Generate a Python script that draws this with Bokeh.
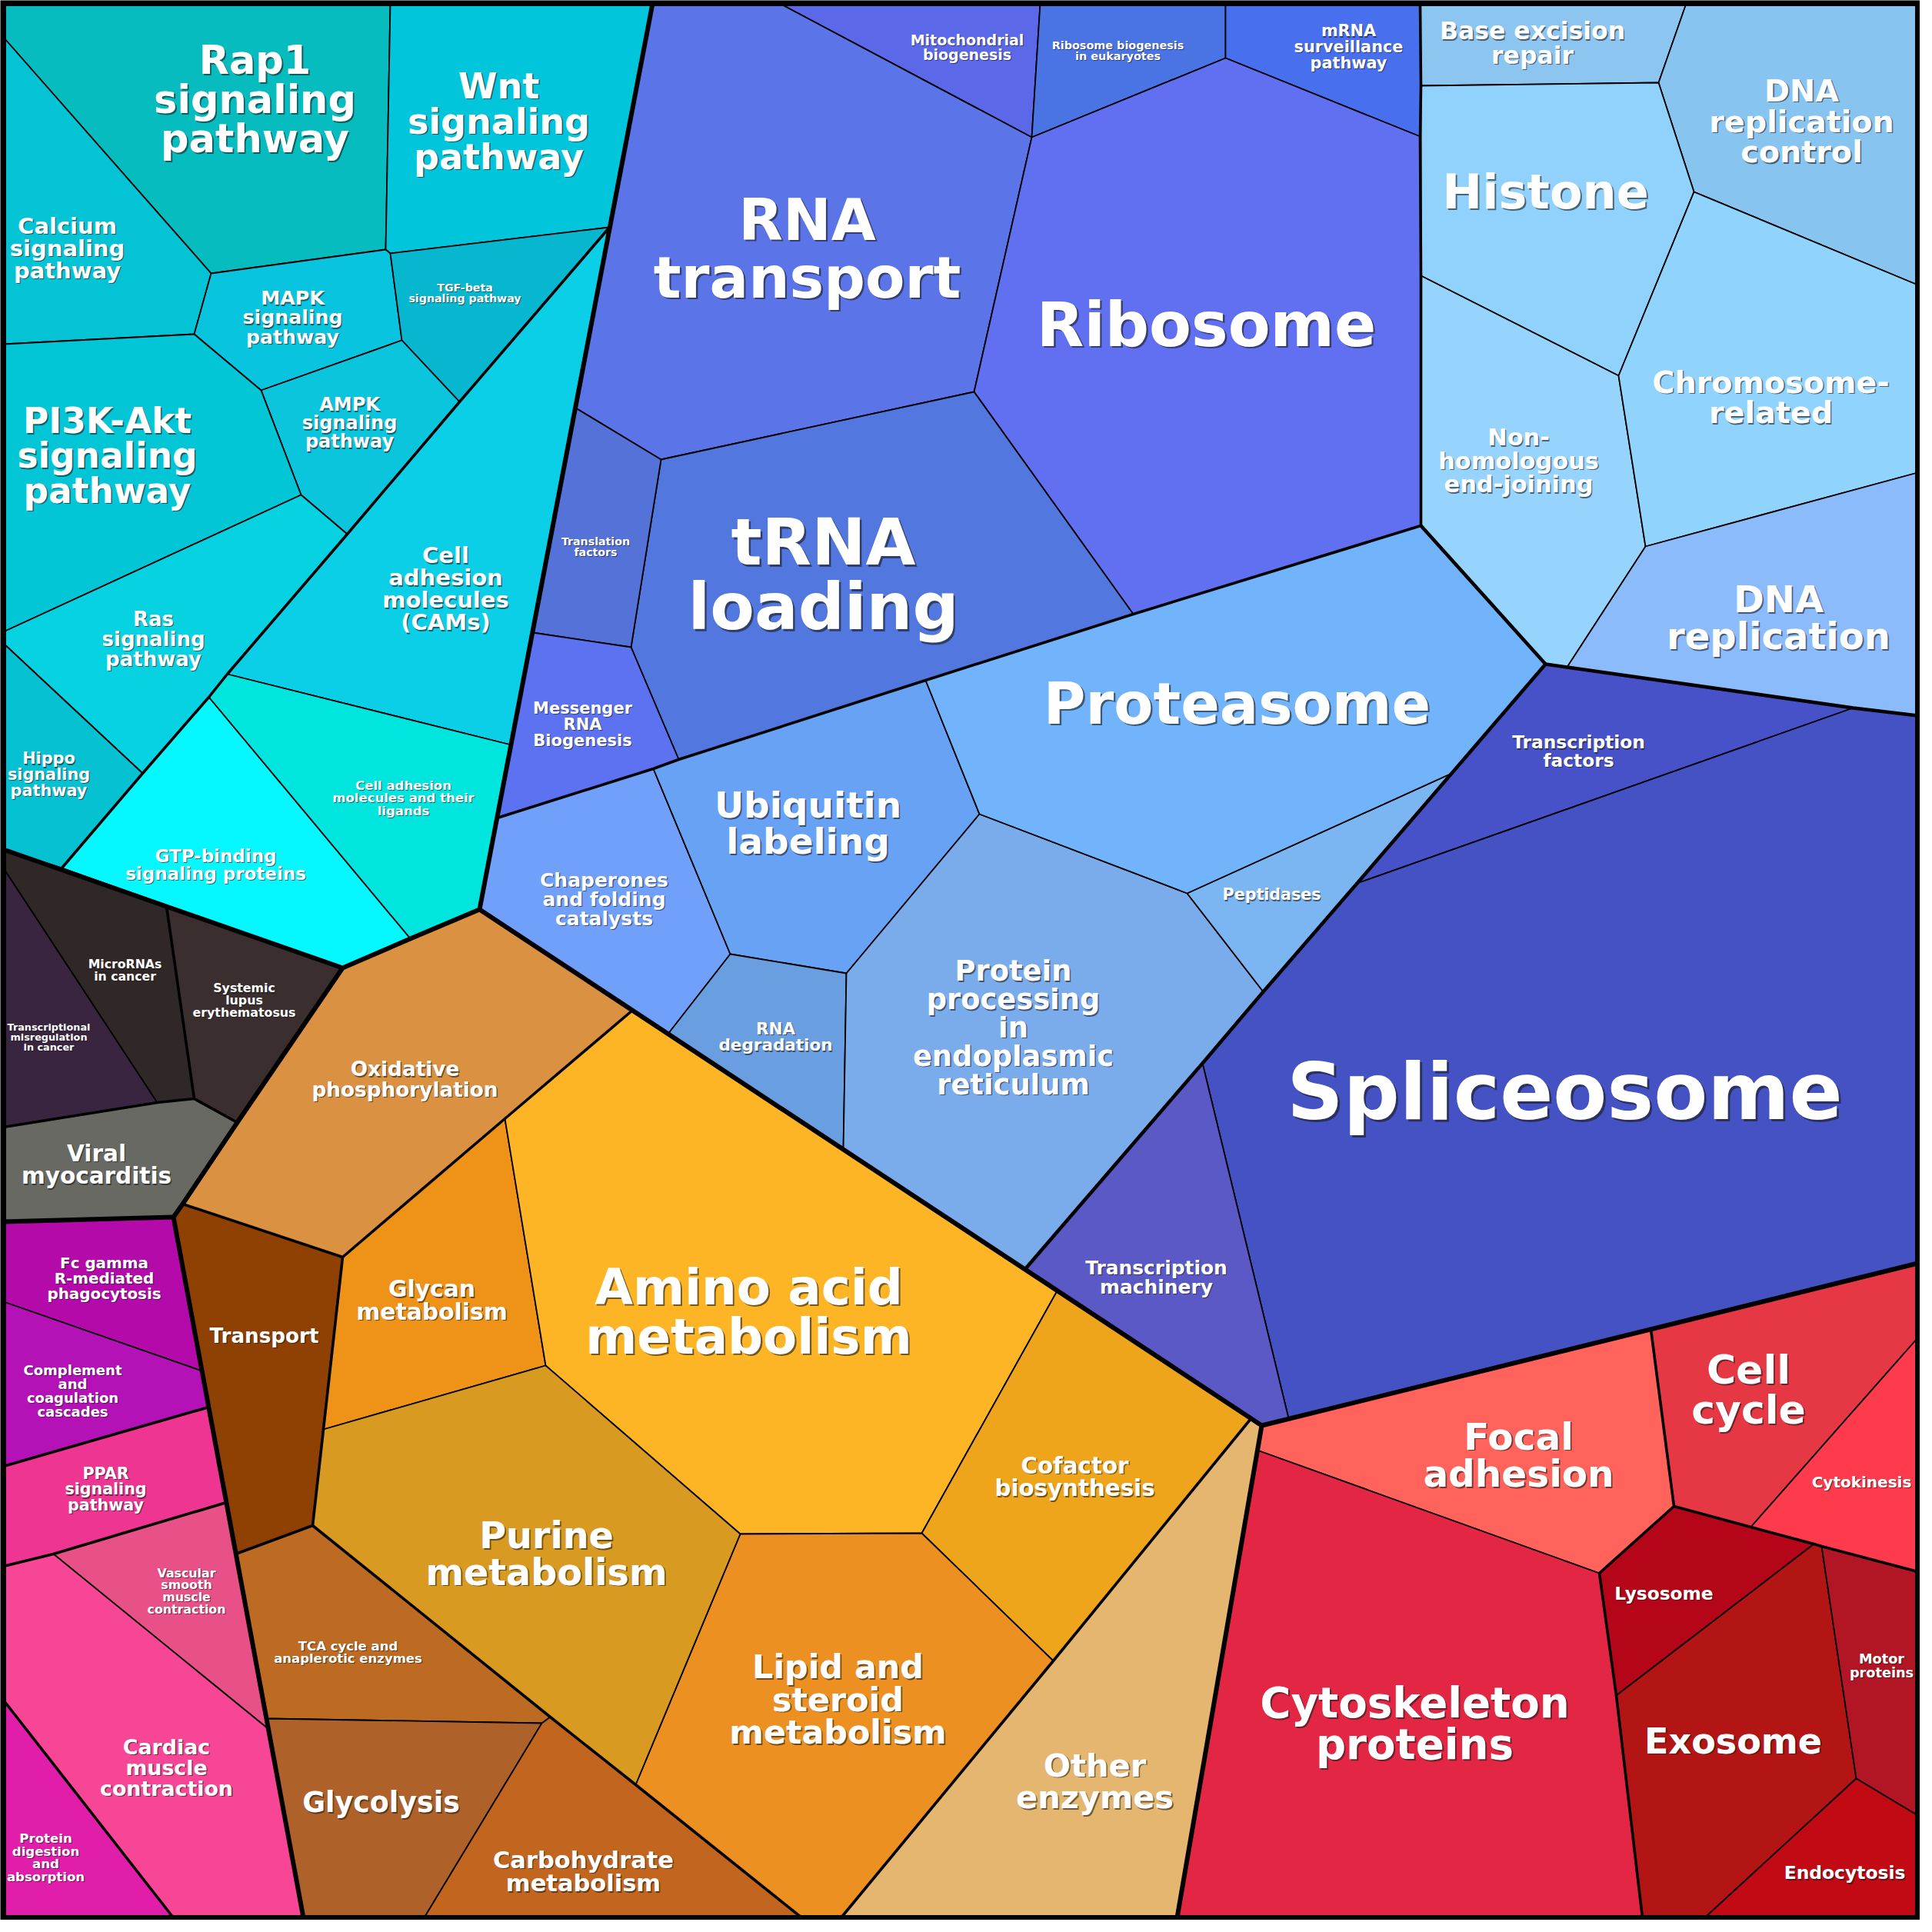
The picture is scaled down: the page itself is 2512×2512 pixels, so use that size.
from bokeh.plotting import figure
from bokeh.models import ColumnDataSource, Range1d
from bokeh.embed import file_html
from bokeh.resources import INLINE
from bokeh.core.properties import value

# ---------------- geometry (pixel coordinates) ----------------
V = {
    "TL": (12, 12), "TR": (2501, 12), "BR": (2501, 2501), "BL": (12, 2501),
    # signaling
    "s1": (12, 56), "s2": (515, 12), "s3": (856, 12), "s4": (282, 363), "s5": (509, 332),
    "s6": (515, 337), "s7": (800, 303), "s8": (12, 455), "s9": (260, 442), "s10": (530, 450),
    "s11": (347, 515), "s12": (605, 530), "s13": (459, 702), "s14": (399, 651), "s15": (12, 829),
    "s16": (12, 844), "s17": (193, 1013), "s18": (303, 884), "s19": (279, 914), "s20": (672, 976),
    "s21": (631, 1190), "s22": (541, 1228), "s23": (453, 1266), "s24": (88, 1136), "s25": (12, 1112),
    # disease (dark)
    "d1": (12, 1136), "d2": (224, 1186), "d3": (260, 1436), "d4": (212, 1441), "d5": (12, 1473),
    "d6": (316, 1467), "d7": (245, 1573), "d8": (233, 1590), "d9": (12, 1596),
    # pink
    "k1": (12, 1700), "k2": (270, 1790), "k3": (279, 1837), "k4": (12, 1914), "k5": (302, 1961),
    "k6": (12, 2044), "k7": (77, 2028), "k8": (357, 2256), "k9": (402, 2501), "k10": (233, 2501),
    "k11": (12, 2218),
    # metabolism
    "m1": (830, 1321), "m2": (664, 1462), "m3": (453, 1642), "m4": (428, 1866), "m5": (414, 1991),
    "m6": (314, 2028), "m7": (717, 1783), "m8": (970, 2002), "m9": (1206, 2001), "m10": (1382, 1686),
    "m11": (1634, 1852), "m12": (1648, 1861), "m13": (1538, 2501), "m14": (1101, 2501),
    "m15": (1377, 2167), "m16": (1050, 2501), "m17": (834, 2328), "m18": (723, 2240),
    "m19": (712, 2248), "m20": (354, 2242), "m21": (559, 2501),
    # genetic information
    "g1": (1021, 12), "g2": (1360, 12), "g3": (1349, 186), "g4": (1601, 12), "g5": (1601, 83),
    "g6": (1854, 12), "g7": (1854, 185), "g8": (1855, 119), "g9": (1855, 366), "g10": (1855, 691),
    "g11": (1274, 517), "g12": (867, 605), "g13": (756, 538), "g14": (1481, 806), "g15": (828, 849),
    "g16": (700, 830), "g17": (890, 995), "g18": (857, 1007), "g19": (654, 1071), "g20": (1211, 892),
    "g21": (1281, 1066), "g22": (1108, 1273), "g23": (957, 1248), "g24": (876, 1352),
    "g25": (1104, 1502), "g26": (1551, 1169), "g27": (1895, 1013), "g28": (2017, 871),
    "g29": (1650, 1297), "g30": (1571, 1390), "g31": (1340, 1658), "g32": (1772, 1156),
    "g33": (2417, 928), "g34": (2501, 938), "g35": (1683, 1852), "g36": (2501, 1650),
    "c1": (2200, 12), "c2": (2164, 115), "c3": (2210, 257), "c4": (2501, 378), "c5": (2112, 496),
    "c6": (2147, 718), "c7": (2501, 622), "c8": (2045, 875),
    # cellular processes (red)
    "r1": (2154, 1736), "r2": (1642, 1893), "r3": (2184, 1966), "r4": (2087, 2053),
    "r5": (2501, 1747), "r6": (2284, 1993), "r7": (2366, 2015), "r8": (2376, 2018),
    "r9": (2501, 2051), "r10": (2109, 2212), "r11": (2421, 2320), "r12": (2501, 2368),
    "r13": (2224, 2501), "r14": (2143, 2501),
}

CELL_NAMES = [
    "Rap1", "Wnt", "Calcium", "MAPK", "TGF", "AMPK", "PI3K", "Ras", "Hippo", "CAMs", "ligands", "GTP",
    "Transcr", "MicroRNA", "Systemic", "Viral",
    "Fc", "Complement", "PPAR", "Vascular", "Cardiac", "ProtDig",
    "Oxidative", "Transport", "Glycan", "Amino", "Cofactor", "Other", "Lipid", "Purine", "TCA",
    "Glycolysis", "Carb",
    "Mito", "RiboBio", "mRNA", "RNAtr", "Ribosome", "tRNA", "TransF", "Messenger",
    "Chaperones", "Ubiquitin", "RNAdeg", "ProtProc", "Peptidases", "Proteasome",
    "Base", "DNArc", "Histone", "NHEJ", "Chromo", "DNArep",
    "TF", "Spliceosome", "TM",
    "Focal", "CellCycle", "Cytokinesis", "Lysosome", "Exosome", "Motor", "Endo", "Cyto",
]
CELL_POLYS = [
    ["TL", "s2", "s5", "s4", "s1"], ["s2", "s3", "s7", "s6", "s5"], ["s1", "s4", "s9", "s8"],
    ["s4", "s5", "s6", "s10", "s11", "s9"], ["s6", "s7", "s12", "s10"], ["s11", "s10", "s12", "s13", "s14"],
    ["s8", "s9", "s11", "s14", "s15"], ["s15", "s14", "s13", "s18", "s19", "s17", "s16"],
    ["s16", "s17", "s24", "s25"], ["s7", "s20", "s18", "s13", "s12"], ["s18", "s20", "s21", "s22", "s19"],
    ["s19", "s22", "s23", "s24", "s17"],
    ["d1", "d4", "d5"], ["s25", "s24", "d2", "d3", "d4", "d1"], ["d2", "s23", "d6", "d3"],
    ["d5", "d4", "d3", "d6", "d7", "d8", "d9"],
    ["d9", "d8", "k2", "k1"], ["k1", "k2", "k3", "k4"], ["k4", "k3", "k5", "k7", "k6"], ["k7", "k5", "k8"],
    ["k6", "k7", "k8", "k9", "k10", "k11"], ["k11", "k10", "BL"],
    ["s23", "s22", "s21", "m1", "m2", "m3", "d7", "d6"], ["d7", "m3", "m4", "m5", "m6", "d8"],
    ["m3", "m2", "m7", "m4"], ["m2", "m1", "m10", "m9", "m8", "m7"], ["m10", "m11", "m15", "m9"],
    ["m11", "m12", "m13", "m14", "m15"], ["m8", "m9", "m15", "m14", "m16", "m17"],
    ["m4", "m7", "m8", "m17", "m18", "m5"], ["m5", "m18", "m19", "m20", "m6"], ["m20", "m19", "m21", "k9"],
    ["m19", "m18", "m17", "m16", "m21"],
    ["g1", "g2", "g3"], ["g2", "g4", "g5", "g3"], ["g4", "g6", "g8", "g7", "g5"],
    ["s3", "g1", "g3", "g11", "g12", "g13"], ["g3", "g5", "g7", "g9", "g10", "g14", "g11"],
    ["g12", "g11", "g14", "g20", "g17", "g15"], ["g13", "g12", "g15", "g16"],
    ["g16", "g15", "g17", "g18", "g19"],
    ["g19", "g18", "g23", "g24", "s21"], ["g18", "g17", "g20", "g21", "g22", "g23"],
    ["g23", "g22", "g25", "g24"], ["g22", "g21", "g26", "g29", "g30", "g31", "g25"],
    ["g26", "g27", "g29"], ["g20", "g14", "g10", "g28", "g27", "g26", "g21"],
    ["g6", "c1", "c2", "g8"], ["c1", "TR", "c4", "c3", "c2"], ["g8", "c2", "c3", "c5", "g9"],
    ["g9", "c5", "c6", "c8", "g28", "g10"], ["c5", "c3", "c4", "c7", "c6"], ["c6", "c7", "g34", "g33", "c8"],
    ["g28", "g33", "g32", "g27"], ["g33", "g34", "g36", "g35", "g30", "g32"], ["g30", "g35", "m12", "g31"],
    ["m12", "r1", "r3", "r4", "r2"], ["r1", "g36", "r5", "r6", "r3"], ["r5", "r9", "r6"],
    ["r4", "r3", "r6", "r7", "r10"], ["r10", "r7", "r8", "r11", "r13", "r14"], ["r8", "r9", "r12", "r11"],
    ["r11", "r12", "BR", "r13"], ["r2", "r4", "r10", "r14", "m13"],
]
CELL_COLORS = [
    "#07BCBE", "#01C5DA", "#03C3D5", "#09C4DF", "#06B7CF", "#0BC5DD", "#02C6D6", "#06D2E1", "#05C1D2",
    "#0BCFE6", "#00E6DF", "#05F8FF",
    "#3A2540", "#302826", "#3A2E2E", "#676962",
    "#B40AA9", "#B412B7", "#EE3592", "#E85188", "#F74695", "#E01EAA",
    "#DA9142", "#8F4003", "#EE9318", "#FDB526", "#EFA51B", "#E4B670", "#EC9022", "#D99A22", "#BD6B22",
    "#AE6229", "#C2661F",
    "#5B68E8", "#4A73E3", "#4870EE", "#5B75E8", "#6170F0", "#5277DE", "#5472D8", "#5C72F0",
    "#71A0FB", "#68A2F5", "#699FE0", "#7AABEB", "#7BB5F2", "#72B4FB",
    "#8CC6F0", "#88C4F0", "#90D2FC", "#97D4FD", "#90D3FC", "#8CBBFC",
    "#4751C8", "#4552C3", "#5B59C6",
    "#FF635B", "#E53744", "#FE3B4C", "#B50519", "#B31515", "#B21624", "#C10A14", "#E22644",
]

# group boundaries (polylines through named vertices)
SUB_LINES = [
    ["s7", "s12", "s13", "s18", "s19", "s17", "s24"],
    ["d2", "d3"], ["d5", "d4", "d3", "d6"],
    ["k4", "k3"], ["k6", "k7", "k5"], ["k11", "k10"],
    ["m1", "m2", "m3", "d7"], ["m3", "m4", "m5", "m6"], ["m5", "m18", "m17", "m16"], ["m11", "m15", "m14"],
    ["r1", "r3", "r4", "r10", "r14"], ["r3", "r6", "r7", "r8", "r9"],
    ["g19", "g18", "g17", "g20", "g14", "g10"], ["g6", "g8", "g7", "g9", "g10"],
]
MID_LINES = [
    ["g10", "g28"], ["g28", "c8", "g33", "g34"], ["g28", "g27", "g32", "g29", "g30", "g31"],
]
TOP_LINES = [
    ["s3", "s21"], ["s25", "s23", "s22", "s21"], ["s23", "d6", "d7", "d8"], ["d9", "d8"], ["d8", "k9"],
    ["s21", "m12"], ["m12", "g36"], ["m12", "m13"],
]

# labels: text, centre x, mean baseline y, font size (px)
LABEL_TEXT = [
    "Rap1\nsignaling\npathway", "Wnt\nsignaling\npathway", "Calcium\nsignaling\npathway",
    "MAPK\nsignaling\npathway", "TGF-beta\nsignaling pathway", "AMPK\nsignaling\npathway",
    "PI3K-Akt\nsignaling\npathway", "Cell\nadhesion\nmolecules\n(CAMs)", "Ras\nsignaling\npathway",
    "Hippo\nsignaling\npathway", "Cell adhesion\nmolecules and their\nligands", "GTP-binding\nsignaling proteins",
    "MicroRNAs\nin cancer", "Systemic\nlupus\nerythematosus", "Transcriptional\nmisregulation\nin cancer",
    "Viral\nmyocarditis", "Oxidative\nphosphorylation", "Messenger\nRNA\nBiogenesis",
    "Chaperones\nand folding\ncatalysts", "Mitochondrial\nbiogenesis", "Ribosome biogenesis\nin eukaryotes",
    "RNA\ntransport", "Ribosome", "tRNA\nloading", "mRNA\nsurveillance\npathway", "Base excision\nrepair",
    "DNA\nreplication\ncontrol", "Histone", "Chromosome-\nrelated", "Non-\nhomologous\nend-joining",
    "DNA\nreplication", "Proteasome", "Ubiquitin\nlabeling", "RNA\ndegradation",
    "Protein\nprocessing\nin\nendoplasmic\nreticulum", "Peptidases", "Transcription\nmachinery",
    "Transcription\nfactors", "Spliceosome", "Fc gamma\nR-mediated\nphagocytosis",
    "Complement\nand\ncoagulation\ncascades", "PPAR\nsignaling\npathway", "Vascular\nsmooth\nmuscle\ncontraction",
    "Cardiac\nmuscle\ncontraction", "Protein\ndigestion\nand\nabsorption", "Transport", "Glycan\nmetabolism",
    "Purine\nmetabolism", "TCA cycle and\nanaplerotic enzymes", "Glycolysis", "Carbohydrate\nmetabolism",
    "Amino acid\nmetabolism", "Cofactor\nbiosynthesis", "Lipid and\nsteroid\nmetabolism", "Other\nenzymes",
    "Focal\nadhesion", "Cell\ncycle", "Cytokinesis", "Lysosome", "Cytoskeleton\nproteins", "Exosome",
    "Motor\nproteins", "Endocytosis", "Translation\nfactors",
]
LABEL_X = [
    339, 656, 95, 388, 612, 462, 147, 587, 207, 71, 532, 288, 170, 325, 71, 133, 534, 765, 793, 1265,
    1461, 1057, 1576, 1078, 1761, 2000, 2350, 2017, 2310, 1982, 2320, 1616, 1058, 1016, 1325, 1661,
    1511, 2060, 2042, 143, 102, 145, 250, 224, 67, 351, 569, 718, 460, 503, 766, 981, 1405, 1097,
    1431, 1982, 2281, 2428, 2171, 1847, 2261, 2454, 2406, 782,
]
LABEL_Y = [
    152, 179, 339, 428, 393, 565, 614, 782, 846, 1021, 1050, 1139, 1274, 1313, 1360, 1531, 1419, 956,
    1184, 75, 78, 353, 454, 780, 75, 73, 177, 276, 536, 616, 825, 945, 1092, 1362, 1355, 1177, 1676,
    991, 1458, 1676, 1821, 1950, 2081, 2314, 2428, 1752, 1707, 2042, 2161, 2362, 2450, 1732, 1937,
    2230, 2336, 1914, 1830, 1940, 2086, 2265, 2285, 2179, 2450, 723,
]
LABEL_SIZE = [
    51, 46, 29, 25.2, 14.2, 24, 45.4, 29, 26, 20.8, 16.5, 23, 15.7, 15.8, 12.8, 29.5, 26.3, 21, 25, 19,
    14.4, 75, 80, 84, 20.8, 31.5, 39.7, 62, 39.7, 30.4, 48, 74.6, 47, 21.5, 36.8, 20.6, 24.9, 23.3, 102,
    19.9, 18, 20.6, 15.8, 26.8, 16.6, 26.2, 29.8, 47.6, 16.5, 36.4, 30.5, 64.3, 29.3, 42.8, 41.5, 48.5,
    52, 20, 23.3, 54.7, 46, 17.7, 23.4, 14.2,
]

# ---------------- build figure ----------------
p = figure(width=2496, height=2496, x_range=Range1d(8, 2504), y_range=Range1d(2504, 8),
           output_backend="svg", toolbar_location=None, min_border=0,
           x_axis_location=None, y_axis_location=None)
p.grid.visible = False
p.outline_line_color = None
p.background_fill_color = "black"
p.border_fill_color = "black"

cell_src = ColumnDataSource(dict(
    xs=[[V[n][0] for n in poly] for poly in CELL_POLYS],
    ys=[[V[n][1] for n in poly] for poly in CELL_POLYS],
    color=CELL_COLORS, name=CELL_NAMES,
))
p.patches("xs", "ys", source=cell_src, fill_color="color", line_color="black", line_width=1.8)


def lines_src(lines):
    return ColumnDataSource(dict(xs=[[V[n][0] for n in l] for l in lines],
                                 ys=[[V[n][1] for n in l] for l in lines]))


p.multi_line("xs", "ys", source=lines_src(SUB_LINES), line_color="black", line_width=3.6, line_join="round")
p.multi_line("xs", "ys", source=lines_src(MID_LINES), line_color="black", line_width=4.6, line_join="round")
p.multi_line("xs", "ys", source=lines_src(TOP_LINES), line_color="black", line_width=6.0, line_join="round")
frame = ["TL", "TR", "BR", "BL", "TL"]
p.line([V[n][0] for n in frame], [V[n][1] for n in frame], line_color="black", line_width=7, line_join="miter")

BASELINE_FIX = 0.3  # renderer places alphabetic baseline slightly low; lift by this fraction of em
tx, ty, tt, ts, sx, sy = [], [], [], [], [], []
for text, cx, cy, fs in zip(LABEL_TEXT, LABEL_X, LABEL_Y, LABEL_SIZE):
    parts = text.split("\n")
    n = len(parts)
    off = 0.8 + fs * 0.02
    for i, ln in enumerate(parts):
        y = cy + (i - (n - 1) / 2) * fs * 1.0 - BASELINE_FIX * fs
        tx.append(cx); ty.append(y); tt.append(ln); ts.append(f"{fs}px")
        sx.append(cx + off); sy.append(y + off)

shadow = ColumnDataSource(dict(x=sx, y=sy, text=tt, size=ts))
label = ColumnDataSource(dict(x=tx, y=ty, text=tt, size=ts))
p.text("x", "y", text="text", source=shadow, text_font=value("DejaVu Sans"), text_font_style="bold",
       text_font_size="size", text_align="center", text_baseline="alphabetic",
       text_color="#1a1a1a", text_alpha=0.6)
p.text("x", "y", text="text", source=label, text_font=value("DejaVu Sans"), text_font_style="bold",
       text_font_size="size", text_align="center", text_baseline="alphabetic", text_color="white")

open("out.html", "w").write(file_html(p, INLINE))
